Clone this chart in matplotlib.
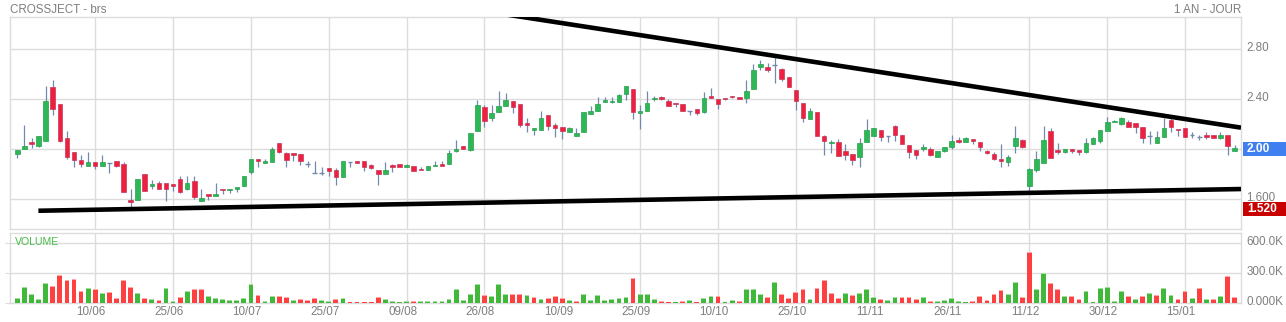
import matplotlib
matplotlib.use("Agg")
import matplotlib.pyplot as plt
import matplotlib.transforms as mtransforms
from matplotlib.patches import Rectangle
import numpy as np

plt.rcParams['font.family'] = ['Liberation Sans', 'DejaVu Sans']

# ---------------- data ----------------
opens = [1.957, 1.997, 2.053, 2.024, 2.067, 2.493, 2.357, 2.085, 1.973, 1.912,
         1.867, 1.893, 1.867, 1.885, 1.901, 1.877, 1.597, 1.597, 1.797, 1.709,
         1.728, 1.728, 1.72, 1.757, 1.685, 1.741, 1.587, 1.645, 1.627, 1.685,
         1.672, 1.68, 1.707, 1.816, 1.92, 1.891, 1.893, 2.045, 1.968, 1.965,
         1.96, 1.88, 1.811, 1.811, 1.845, 1.832, 1.773, 1.899, 1.901, 1.901,
         1.875, 1.829, 1.797, 1.875, 1.877, 1.859, 1.861, 1.837, 1.829, 1.861,
         1.88, 1.883, 1.987, 2.021, 1.992, 2.141, 2.333, 2.243, 2.291, 2.339,
         2.381, 2.357, 2.205, 2.149, 2.149, 2.269, 2.189, 2.173, 2.133, 2.107,
         2.133, 2.277, 2.301, 2.373, 2.373, 2.376, 2.437, 2.477, 2.285, 2.301,
         2.395, 2.413, 2.381, 2.365, 2.357, 2.304, 2.317, 2.296, 2.424, 2.397,
         2.408, 2.424, 2.413, 2.403, 2.477, 2.651, 2.656, 2.672, 2.637, 2.573,
         2.472, 2.365, 2.237, 2.293, 2.104, 2.045, 2.053, 1.984, 1.957, 1.939,
         2.053, 2.101, 2.149, 2.101, 2.181, 2.109, 2.029, 1.989, 1.997, 1.997,
         1.933, 1.984, 2.019, 2.069, 2.053, 2.077, 2.053, 1.984, 1.96, 1.917,
         1.899, 2.027, 2.072, 1.704, 1.832, 1.891, 2.141, 1.992, 1.976, 1.997,
         1.992, 1.976, 2.04, 2.064, 2.147, 2.211, 2.203, 2.213, 2.208, 2.176,
         2.101, 2.051, 2.099, 2.229, 2.163, 2.168, 2.112, 2.099, 2.109, 2.112,
         2.085, 2.112, 1.984]
highs = [1.995, 2.192, 2.085, 2.104, 2.504, 2.552, 2.357, 2.144, 1.973, 1.952,
         1.976, 1.893, 1.952, 1.885, 1.901, 1.893, 1.685, 1.757, 1.797, 1.749,
         1.744, 1.728, 1.72, 1.784, 1.784, 1.784, 1.685, 1.645, 1.728, 1.685,
         1.685, 1.701, 1.784, 1.92, 1.92, 1.92, 2.016, 2.045, 1.976, 1.965,
         1.96, 1.904, 1.904, 1.859, 1.845, 1.845, 1.901, 1.899, 1.901, 1.901,
         1.883, 1.829, 1.893, 1.883, 1.877, 1.883, 1.861, 1.859, 1.861, 1.901,
         1.901, 1.992, 2.069, 2.021, 2.125, 2.392, 2.349, 2.349, 2.464, 2.445,
         2.381, 2.357, 2.245, 2.168, 2.301, 2.269, 2.205, 2.173, 2.173, 2.165,
         2.293, 2.339, 2.413, 2.413, 2.413, 2.437, 2.501, 2.477, 2.352, 2.459,
         2.419, 2.419, 2.4, 2.365, 2.357, 2.304, 2.317, 2.451, 2.488, 2.397,
         2.408, 2.424, 2.413, 2.552, 2.68, 2.712, 2.685, 2.733, 2.645, 2.573,
         2.472, 2.365, 2.328, 2.293, 2.115, 2.072, 2.08, 2.04, 1.957, 2.088,
         2.24, 2.168, 2.149, 2.101, 2.189, 2.109, 2.029, 1.989, 2.04, 2.016,
         1.984, 2.016, 2.112, 2.096, 2.096, 2.077, 2.053, 1.992, 1.979, 2.04,
         1.952, 2.187, 2.077, 1.845, 1.984, 2.187, 2.171, 2.045, 2.0, 1.997,
         1.992, 2.088, 2.099, 2.152, 2.253, 2.229, 2.253, 2.232, 2.208, 2.176,
         2.147, 2.141, 2.245, 2.245, 2.163, 2.168, 2.136, 2.112, 2.136, 2.112,
         2.136, 2.112, 2.032]
lows = [1.925, 1.997, 2.011, 2.016, 2.067, 2.272, 2.059, 1.917, 1.859, 1.859,
        1.867, 1.837, 1.867, 1.805, 1.859, 1.659, 1.539, 1.597, 1.667, 1.683,
        1.685, 1.584, 1.667, 1.651, 1.677, 1.6, 1.587, 1.592, 1.627, 1.64,
        1.653, 1.659, 1.707, 1.8, 1.859, 1.891, 1.893, 1.971, 1.859, 1.901,
        1.875, 1.859, 1.805, 1.792, 1.784, 1.712, 1.773, 1.859, 1.885, 1.827,
        1.837, 1.717, 1.797, 1.819, 1.853, 1.859, 1.827, 1.829, 1.829, 1.861,
        1.867, 1.883, 1.979, 1.997, 1.984, 2.141, 2.179, 2.221, 2.291, 2.339,
        2.285, 2.179, 2.139, 2.112, 2.149, 2.152, 2.093, 2.077, 2.133, 2.107,
        2.133, 2.277, 2.301, 2.373, 2.365, 2.376, 2.389, 2.237, 2.157, 2.301,
        2.379, 2.389, 2.341, 2.336, 2.301, 2.267, 2.269, 2.285, 2.403, 2.315,
        2.392, 2.403, 2.4, 2.365, 2.477, 2.632, 2.611, 2.523, 2.539, 2.491,
        2.307, 2.211, 2.237, 2.101, 1.952, 1.971, 1.941, 1.912, 1.875, 1.859,
        2.053, 2.101, 2.067, 2.059, 2.067, 2.037, 1.931, 1.92, 1.987, 1.941,
        1.933, 1.976, 1.997, 2.045, 2.053, 2.04, 1.987, 1.96, 1.909, 1.859,
        1.867, 1.971, 2.005, 1.667, 1.819, 1.891, 1.925, 1.96, 1.965, 1.971,
        1.952, 1.965, 2.04, 2.051, 2.147, 2.211, 2.192, 2.173, 2.131, 2.051,
        2.037, 2.051, 2.099, 2.133, 2.104, 2.099, 2.088, 2.072, 2.077, 2.085,
        2.077, 1.952, 1.984]
closes = [1.992, 2.024, 2.043, 2.104, 2.384, 2.317, 2.067, 1.933, 1.909, 1.877,
          1.893, 1.861, 1.893, 1.885, 1.867, 1.659, 1.579, 1.757, 1.667, 1.723,
          1.685, 1.685, 1.709, 1.659, 1.733, 1.619, 1.613, 1.627, 1.645, 1.672,
          1.685, 1.701, 1.784, 1.92, 1.901, 1.904, 1.997, 1.979, 1.909, 1.949,
          1.901, 1.88, 1.811, 1.811, 1.824, 1.779, 1.901, 1.899, 1.885, 1.853,
          1.848, 1.797, 1.829, 1.859, 1.853, 1.875, 1.827, 1.829, 1.861, 1.875,
          1.867, 1.971, 1.997, 1.997, 2.125, 2.349, 2.221, 2.285, 2.344, 2.392,
          2.331, 2.195, 2.195, 2.168, 2.248, 2.187, 2.165, 2.141, 2.165, 2.125,
          2.293, 2.304, 2.357, 2.387, 2.384, 2.429, 2.501, 2.293, 2.304, 2.365,
          2.405, 2.395, 2.341, 2.355, 2.301, 2.304, 2.285, 2.405, 2.408, 2.357,
          2.395, 2.411, 2.4, 2.464, 2.632, 2.677, 2.629, 2.672, 2.557, 2.491,
          2.381, 2.245, 2.301, 2.101, 2.067, 2.056, 1.947, 1.949, 1.915, 2.045,
          2.149, 2.168, 2.093, 2.101, 2.112, 2.037, 1.973, 1.949, 2.016, 1.949,
          1.984, 2.016, 2.061, 2.059, 2.088, 2.067, 2.013, 1.971, 1.917, 1.907,
          1.933, 2.085, 2.013, 1.84, 1.917, 2.072, 1.925, 1.979, 2.0, 1.987,
          1.979, 2.045, 2.088, 2.152, 2.216, 2.224, 2.248, 2.173, 2.179, 2.085,
          2.101, 2.096, 2.165, 2.173, 2.149, 2.099, 2.112, 2.099, 2.093, 2.085,
          2.112, 2.027, 2.005]

# volume in thousands
volumes = [47, 155, 91, 37, 195, 169, 276, 229, 239, 118, 148, 135, 98, 111, 47,
           229, 158, 101, 47, 34, 27, 148, 17, 54, 115, 142, 142, 67, 44, 40,
           27, 27, 44, 189, 74, 17, 64, 64, 57, 27, 34, 30, 47, 27, 17,
           34, 47, 7, 7, 7, 7, 57, 40, 20, 10, 13, 17, 13, 17, 13,
           13, 37, 135, 30, 84, 192, 78, 71, 185, 88, 91, 91, 81, 57, 37,
           47, 64, 47, 27, 17, 88, 30, 81, 27, 37, 47, 57, 249, 88, 91, 40,
           20, 7, 10, 17, 27, 7, 44, 64, 67, 7, 27, 17, 142, 138, 84,
           57, 206, 88, 51, 108, 142, 40, 148, 226, 98, 47, 94, 74, 94, 135,
           57, 37, 30, 57, 57, 54, 37, 57, 17, 17, 24, 51, 17, 10, 13, 71,
           27, 88, 125, 91, 206, 57, 512, 135, 300, 199, 142, 71, 64, 40, 118,
           7, 148, 158, 20, 118, 64, 37, 64, 94, 74, 148, 78, 37, 115, 47,
           148, 40, 34, 67, 266, 57]
volume_dir = ("gggggrrrrrgrgrrrrgrgrggrgrrgggggggrggrrgrrrgg"
              "rgrrrrrggggrgggggggggrgggrrgrgrrrgrgggggggrggg"
              "rrgrgrggrggrgggrgrrrrgrrrrgrgggrggrrrgrgggggrr"
              "rrrggrrggrrgrrggggggrgrgrggrrgrgrgrr")

date_labels = ['10/06', '25/06', '10/07', '25/07', '09/08', '26/08', '10/09',
               '25/09', '10/10', '25/10', '11/11', '26/11', '11/12', '30/12', '15/01']
date_positions = [11, 22, 33, 44, 55, 66, 77, 88, 99, 110, 121, 132, 143, 154, 165]

price_ticks = [1.6, 2.0, 2.4, 2.8]
price_tick_labels = ['1.600', '2.00', '2.40', '2.80']
vol_ticks = [0, 300, 600]
vol_tick_labels = ['0.000K', '300.0K', '600.0K']

upper_trend_x = [60, 172.9]
upper_trend_y = [3.15, 2.170]
lower_trend_x = [2.97, 172.9]
lower_trend_y = [1.508, 1.681]

last_price = 2.00
low_marker = 1.52

# ---------------- style ----------------
W, H = 1286, 322
DPI = 100
GRID = '#dcdcdc'
TXT = '#7f7f7f'
UP = '#2db757'
DOWN = '#ef1f40'
WICK = '#7189aa'
VUP = '#40b93a'
VDOWN = '#ff4040'
VUP_CAP = '#a6dea0'
VDOWN_CAP = '#ffa8a8'

fig = plt.figure(figsize=(W / DPI, H / DPI), dpi=DPI)
fig.patch.set_facecolor('white')

def fx(px):
    return px / W

def fy(py):
    return 1 - py / H

ax_l, ax_r = 10.3, 1241.0
ax = fig.add_axes([fx(ax_l), fy(228.7), fx(ax_r - ax_l), (228.7 - 17.3) / H])
axv = fig.add_axes([fx(ax_l), fy(302.7), fx(ax_r - ax_l), (302.7 - 233.0) / H])

n = len(opens)
x = np.arange(n)
o = np.array(opens); h = np.array(highs); l = np.array(lows); c = np.array(closes)

for a in (ax, axv):
    a.set_xlim(-1, 172.9)
    for s in a.spines.values():
        s.set_color(GRID)
        s.set_linewidth(1.0)
    a.set_axisbelow(True)
    a.grid(True, color=GRID, linewidth=1.0)

# price panel
ax.set_ylim(1.365, 3.049)
ax.vlines(x, l, h, color=WICK, linewidth=0.9, zorder=2)
up = c > o
down = c < o
flat = c == o
bw = 0.64
ax.bar(x[up], (c - o)[up], bottom=o[up], width=bw, color=UP,
       edgecolor='#26a04c', linewidth=0.5, zorder=3)
ax.bar(x[down], (c - o)[down], bottom=o[down], width=bw, color=DOWN,
       edgecolor='#c8385a', linewidth=0.5, zorder=3)
ax.hlines(c[flat], x[flat] - bw / 2, x[flat] + bw / 2, color=WICK, linewidth=1.0, zorder=3)

ax.plot(upper_trend_x, upper_trend_y, color='black', linewidth=3.3,
        solid_capstyle='butt', zorder=4)
ax.plot(lower_trend_x, lower_trend_y, color='black', linewidth=3.3,
        solid_capstyle='butt', zorder=4)

ax.set_xticks(date_positions)
ax.set_xticklabels([])
ax.tick_params(axis='x', length=0)
ax.set_yticks(price_ticks)
ax.set_yticklabels(price_tick_labels)
ax.yaxis.set_ticks_position('right')
ax.tick_params(axis='y', length=0, pad=3.6, labelsize=8.4, labelcolor=TXT)
up_off = mtransforms.ScaledTranslation(0, 2.5 / DPI, fig.dpi_scale_trans)
for lab in ax.get_yticklabels():
    lab.set_transform(lab.get_transform() + up_off)

# value boxes on the right
bt = mtransforms.blended_transform_factory(ax.transAxes, ax.transData)
box_h = 14.5 / 125.5
for val, txt, col in [(last_price, '2.00', '#3f7ff0'), (low_marker, '1.520', '#c80000')]:
    r = Rectangle((1.0018, val - box_h / 2), 0.0364, box_h, transform=bt,
                  facecolor=col, edgecolor='none', clip_on=False, zorder=10)
    ax.add_patch(r)
    ax.text(1.0048, val, txt, transform=bt, color='white', fontsize=8.6,
            fontweight='bold', ha='left', va='center', zorder=11, clip_on=False)

# volume panel
axv.set_ylim(0, 704)
vol = np.array(volumes, dtype=float)
is_up = np.array([d == 'g' for d in volume_dir])
vcols = np.where(is_up, VUP, VDOWN)
axv.bar(x, vol, width=0.68, color=vcols, linewidth=0, zorder=3)
cap = 9.0
has_cap = vol > 12
ccols = np.where(is_up, VUP_CAP, VDOWN_CAP)
axv.bar(x[has_cap], cap, bottom=vol[has_cap] - cap, width=0.68,
        color=ccols[has_cap], linewidth=0, zorder=4)
axv.set_xticks(date_positions)
axv.set_xticklabels(date_labels)
axv.tick_params(axis='x', length=0, pad=2.6, labelsize=8.4, labelcolor=TXT)
left_off = mtransforms.ScaledTranslation(-4 / DPI, 0, fig.dpi_scale_trans)
for lab in axv.get_xticklabels():
    lab.set_transform(lab.get_transform() + left_off)
axv.set_yticks(vol_ticks)
axv.set_yticklabels(vol_tick_labels)
axv.tick_params(axis='y', left=True, right=False, labelleft=False, labelright=True,
                length=3.5, color=GRID, pad=0.5, labelsize=8.4, labelcolor=TXT)
for lab in axv.get_yticklabels():
    lab.set_transform(lab.get_transform() + up_off)
fig.text(fx(15), fy(244.7), 'VOLUME', color='#45bb45', fontsize=7.6,
         ha='left', va='baseline')

# header
fig.text(fx(10), fy(12.7), 'CROSSJECT - brs', color=TXT, fontsize=8.4,
         ha='left', va='baseline')
fig.text(fx(1241), fy(12.7), '1 AN - JOUR', color=TXT, fontsize=8.4,
         ha='right', va='baseline')

fig.savefig('out.png', dpi=DPI, facecolor='white')
